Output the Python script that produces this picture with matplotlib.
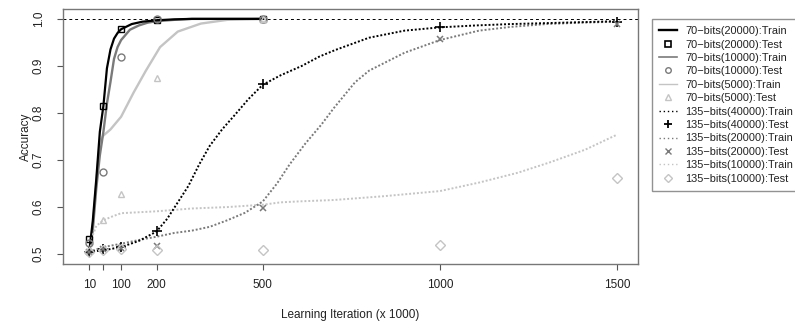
#!/usr/bin/env python3
"""
Accuracy vs learning iteration for 70-bit and 135-bit models
"""

import matplotlib
matplotlib.use('Agg')
import matplotlib.pyplot as plt
from matplotlib.lines import Line2D

plt.rcParams['font.family'] = ['Liberation Sans', 'DejaVu Sans']

BLACK = '#000000'
GRAY = '#7a7a7a'
LIGHT = '#c4c4c4'

# Test points (x in 1000 iterations)
test_x_70 = [10, 50, 100, 200, 500]
test_x_135 = [10, 50, 100, 200, 500, 1000, 1500]

test_70_20000 = [0.532, 0.814, 0.978, 0.998, 1.0]
test_70_10000 = [0.524, 0.674, 0.920, 0.999, 1.0]
test_70_5000 = [0.508, 0.572, 0.628, 0.874, 1.0]
test_135_40000 = [0.505, 0.510, 0.516, 0.549, 0.862, 0.982, 0.994]
test_135_20000 = [0.505, 0.510, 0.512, 0.518, 0.597, 0.957, 0.989]
test_135_10000 = [0.505, 0.508, 0.510, 0.509, 0.509, 0.520, 0.662]

# Training curves
train_x_70_20000 = [10, 20, 30, 40, 50, 60, 70, 80, 90, 100, 130, 160, 200, 250, 300, 400, 500]
train_70_20000 = [0.505, 0.570, 0.660, 0.760, 0.815, 0.895, 0.935, 0.958, 0.970, 0.978,
                  0.989, 0.994, 0.997, 0.999, 1.0, 1.0, 1.0]

train_x_70_10000 = [10, 20, 30, 40, 50, 60, 70, 80, 90, 100, 125, 150, 175, 200, 250, 300, 400, 500]
train_70_10000 = [0.505, 0.550, 0.640, 0.710, 0.760, 0.820, 0.866, 0.915, 0.940, 0.955,
                  0.977, 0.986, 0.992, 0.995, 0.998, 1.0, 1.0, 1.0]

train_x_70_5000 = [10, 20, 30, 40, 50, 70, 100, 135, 170, 210, 260, 325, 400, 500]
train_70_5000 = [0.505, 0.560, 0.650, 0.740, 0.752, 0.765, 0.792, 0.843, 0.890, 0.940,
                 0.973, 0.990, 0.998, 1.0]

train_x_135_40000 = [10, 50, 100, 150, 200, 230, 260, 290, 320, 350, 385, 420, 460, 500,
                     550, 610, 660, 705, 800, 900, 1000, 1100, 1200, 1300, 1400, 1500]
train_135_40000 = [0.505, 0.508, 0.515, 0.528, 0.548, 0.575, 0.610, 0.645, 0.690, 0.730,
                   0.765, 0.795, 0.830, 0.860, 0.880, 0.900, 0.920, 0.934, 0.960, 0.975,
                   0.982, 0.986, 0.989, 0.991, 0.993, 0.995]

train_x_135_20000 = [10, 50, 100, 150, 200, 250, 300, 350, 400, 450, 500, 540, 575, 620,
                     665, 700, 760, 800, 900, 1000, 1110, 1200, 1300, 1400, 1500]
train_135_20000 = [0.505, 0.515, 0.522, 0.530, 0.537, 0.545, 0.550, 0.558, 0.572, 0.588,
                   0.612, 0.650, 0.690, 0.735, 0.775, 0.810, 0.865, 0.890, 0.928, 0.955,
                   0.975, 0.983, 0.989, 0.992, 0.994]

train_x_135_10000 = [10, 20, 30, 50, 75, 100, 150, 200, 300, 400, 500, 550, 600, 700, 840,
                     1000, 1110, 1220, 1310, 1410, 1500]
train_135_10000 = [0.500, 0.540, 0.560, 0.572, 0.580, 0.587, 0.589, 0.591, 0.597, 0.600,
                   0.605, 0.610, 0.612, 0.615, 0.623, 0.634, 0.652, 0.673, 0.695, 0.722,
                   0.754]

xticks = [10, 50, 100, 200, 500, 1000, 1500]
xtick_labels = ['10', '', '100', '200', '500', '1000', '1500']
yticks = [0.5, 0.6, 0.7, 0.8, 0.9, 1.0]

fig = plt.figure(figsize=(7.95, 3.22), dpi=100)
ax = fig.add_axes([63 / 795, 1 - 264 / 322, (638 - 63) / 795, (264 - 9) / 322])

ax.axhline(1.0, color=BLACK, linestyle=(0, (3, 3)), linewidth=0.7, zorder=1)

# 70-bit train (solid)
ax.plot(train_x_70_5000, train_70_5000, color=LIGHT, lw=1.7)
ax.plot(train_x_70_10000, train_70_10000, color=GRAY, lw=1.7)
ax.plot(train_x_70_20000, train_70_20000, color=BLACK, lw=1.6)

# 135-bit train (dotted)
ax.plot(train_x_135_10000, train_135_10000, color=LIGHT, lw=1.4, ls=(0, (1, 1)))
ax.plot(train_x_135_20000, train_135_20000, color=GRAY, lw=1.4, ls=(0, (1, 1)))
ax.plot(train_x_135_40000, train_135_40000, color=BLACK, lw=1.4, ls=(0, (1, 1)))

mk = dict(linestyle='none', markersize=5, markerfacecolor='none', markeredgewidth=1)
ax.plot(test_x_70, test_70_20000, marker='s', color=BLACK, **mk)
ax.plot(test_x_70, test_70_10000, marker='o', color=GRAY, **mk)
ax.plot(test_x_70, test_70_5000, marker='^', color=LIGHT, **mk)
ax.plot(test_x_135, test_135_40000, marker='+', color=BLACK, linestyle='none', markersize=7, markeredgewidth=1.2)
ax.plot(test_x_135, test_135_20000, marker='x', color=GRAY, linestyle='none', markersize=5, markeredgewidth=1.1)
ax.plot(test_x_135, test_135_10000, marker='D', color=LIGHT, **mk)

ax.set_xlim(-64, 1559)
ax.set_ylim(0.479, 1.021)
ax.set_xticks(xticks)
ax.set_xticklabels(xtick_labels)
ax.set_yticks(yticks)
ax.set_yticklabels([f'{v:.1f}' for v in yticks], rotation=90, va='center')
ax.tick_params(direction='out', length=4.5, width=0.8, color='#555555', labelsize=8.5,
               labelcolor='#222222')
ax.tick_params(axis='x', pad=6.5)
ax.tick_params(axis='y', pad=8.5)
for s in ax.spines.values():
    s.set_color('#777777')
    s.set_linewidth(1.0)

ax.set_xlabel('Learning Iteration (x 1000)', fontsize=8.5, color='#222222', labelpad=13)
ax.set_ylabel('Accuracy', fontsize=8.5, color='#222222', labelpad=1)

handles = [
    Line2D([], [], color=BLACK, lw=1.7),
    Line2D([], [], color=BLACK, marker='s', ls='none', markersize=4, markerfacecolor='none', markeredgewidth=1.2),
    Line2D([], [], color=GRAY, lw=1.2),
    Line2D([], [], color=GRAY, marker='o', ls='none', markersize=4, markerfacecolor='none'),
    Line2D([], [], color=LIGHT, lw=1.0),
    Line2D([], [], color=LIGHT, marker='^', ls='none', markersize=4, markerfacecolor='none'),
    Line2D([], [], color=BLACK, lw=1.0, ls=(0, (1, 2))),
    Line2D([], [], color=BLACK, marker='+', ls='none', markersize=6, markeredgewidth=1.3),
    Line2D([], [], color=GRAY, lw=1.0, ls=(0, (1, 2))),
    Line2D([], [], color=GRAY, marker='x', ls='none', markersize=4),
    Line2D([], [], color=LIGHT, lw=1.0, ls=(0, (1, 2))),
    Line2D([], [], color=LIGHT, marker='D', ls='none', markersize=4, markerfacecolor='none'),
]
labels = [
    '70\u2212bits(20000):Train', '70\u2212bits(20000):Test',
    '70\u2212bits(10000):Train', '70\u2212bits(10000):Test',
    '70\u2212bits(5000):Train', '70\u2212bits(5000):Test',
    '135\u2212bits(40000):Train', '135\u2212bits(40000):Test',
    '135\u2212bits(20000):Train', '135\u2212bits(20000):Test',
    '135\u2212bits(10000):Train', '135\u2212bits(10000):Test',
]
leg = fig.legend(handles, labels, loc='upper left', bbox_to_anchor=(652 / 795, 1 - 19 / 322),
                 fontsize=7.9, frameon=True, fancybox=False, edgecolor='#777777',
                 handlelength=1.6, handletextpad=0.8, labelspacing=0.31, borderpad=0.65,
                 borderaxespad=0)
leg.get_frame().set_linewidth(1.0)
for t in leg.get_texts():
    t.set_color('#222222')

plt.savefig('out.png', dpi=100)
plt.close()
